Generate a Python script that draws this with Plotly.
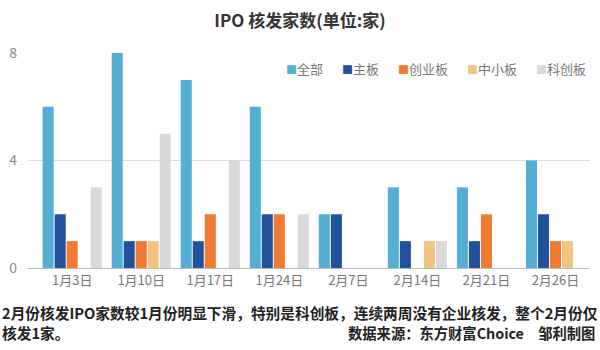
import plotly.graph_objects as go

categories = ["1月3日", "1月10日", "1月17日", "1月24日", "2月7日", "2月14日", "2月21日", "2月26日"]
series_names = ["全部", "主板", "创业板", "中小板", "科创板"]
all_vals = [6, 8, 7, 6, 2, 3, 3, 4]
main_vals = [2, 1, 1, 2, 2, 1, 1, 2]
chinext_vals = [1, 1, 2, 2, 0, 0, 2, 1]
sme_vals = [0, 1, 0, 0, 0, 1, 0, 1]
star_vals = [3, 5, 4, 2, 0, 1, 0, 0]
colors = ["#55AFD3", "#22519E", "#F07A32", "#F0C583", "#D9D9D9"]

series_values = [all_vals, main_vals, chinext_vals, sme_vals, star_vals]

FONT = "Noto Sans CJK SC"
W, H = 600, 350
ML, MR, MT, MB = 28, 10, 53, 82
PW, PH = W - ML - MR, H - MT - MB


def px_x(px):
    return (px - ML) / PW


def px_y(py):
    return (H - MB - py) / PH


fig = go.Figure()
for name, vals, col in zip(series_names, series_values, colors):
    fig.add_trace(go.Bar(x=categories, y=vals, name=name, showlegend=False,
                         marker=dict(color=col, line=dict(width=0))))

fig.update_layout(
    width=W, height=H,
    margin=dict(l=ML, r=MR, t=MT, b=MB),
    paper_bgcolor="white", plot_bgcolor="white",
    barmode="group", bargap=0.13, bargroupgap=0.08,
    font=dict(family=FONT, color="#666666"),
    showlegend=False,
    title=dict(text="<b>IPO 核发家数(单位:家)</b>", x=0.5, xanchor="center", y=0.94, yanchor="middle",
               font=dict(size=17, color="#333333", family=FONT)),
)
fig.update_xaxes(range=[-0.64, 7.5], showgrid=False, showline=True, linecolor="#BBBBBB", linewidth=1,
                 ticks="", tickfont=dict(size=13, color="#777777"), fixedrange=True)
fig.update_yaxes(range=[0, 8], tickvals=[0, 4, 8], showgrid=True, gridcolor="#DDDDDD", gridwidth=1,
                 zeroline=False, showline=False, ticks="", ticklabelstandoff=10,
                 tickfont=dict(size=14, color="#888888"), fixedrange=True)

# custom legend (compact square + label)
lx = 284
for name, col in zip(series_names, colors):
    fig.add_annotation(
        text=f'<span style="color:{col};font-size:11px">■</span>{name}',
        xref="paper", yref="paper", x=px_x(lx), xanchor="left", y=px_y(68), yanchor="middle",
        showarrow=False, font=dict(size=13, color="#777777", family=FONT))
    lx += 11 + 13 * len(name) + 19

fig.add_annotation(text="<b>2月份核发IPO家数较1月份明显下滑，特别是科创板，连续两周没有企业核发，整个2月份仅</b>",
                   xref="paper", yref="paper", x=px_x(0), xanchor="left", y=px_y(312), yanchor="middle",
                   showarrow=False, font=dict(size=14.7, color="#222222", family=FONT))
fig.add_annotation(text="<b>核发1家。</b>",
                   xref="paper", yref="paper", x=px_x(0), xanchor="left", y=px_y(332), yanchor="middle",
                   showarrow=False, font=dict(size=14.7, color="#222222", family=FONT))
fig.add_annotation(text="<b>数据来源：东方财富Choice　邹利制图</b>",
                   xref="paper", yref="paper", x=px_x(597), xanchor="right", y=px_y(332), yanchor="middle",
                   showarrow=False, font=dict(size=14.3, color="#222222", family=FONT))

fig.write_html("out.html")
